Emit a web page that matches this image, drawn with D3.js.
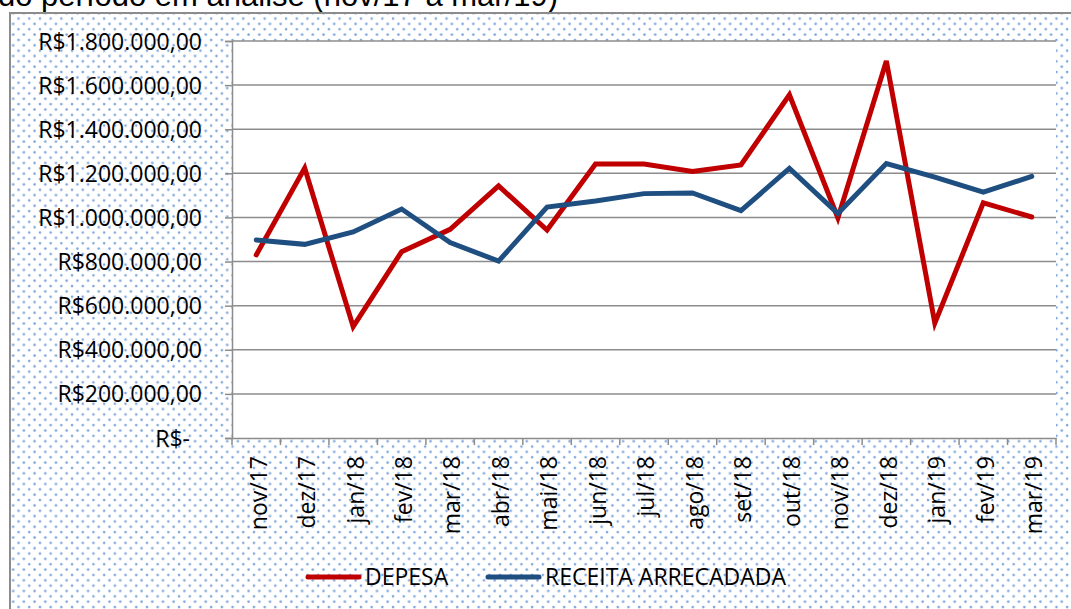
<!DOCTYPE html>
<html>
<head>
<meta charset="utf-8">
<script src="https://cdn.jsdelivr.net/npm/d3@7"></script>
<style>
  html, body { margin: 0; padding: 0; background: #fff; overflow: hidden; }
  svg { display: block; }
</style>
</head>
<body>
<svg id="chart" width="1071" height="609"></svg>
<script>
// Despesa x receita arrecadada (nov/17 a mar/19)
const months = ["nov/17", "dez/17", "jan/18", "fev/18", "mar/18", "abr/18", "mai/18", "jun/18",
  "jul/18", "ago/18", "set/18", "out/18", "nov/18", "dez/18", "jan/19", "fev/19", "mar/19"];

const despesa = [830000, 1224000, 505000, 845000, 946000, 1143000, 943000, 1242000, 1242000,
  1208000, 1238000, 1556000, 998000, 1709000, 521000, 1066000, 1002000];

const receita = [898000, 878000, 934000, 1038000, 886000, 802000, 1047000, 1075000, 1108000,
  1111000, 1031000, 1222000, 1018000, 1244000, 1183000, 1115000, 1186000];

const yTicks = [0, 200000, 400000, 600000, 800000, 1000000, 1200000, 1400000, 1600000, 1800000];

const seriesNames = ["DEPESA", "RECEITA ARRECADADA"];
const seriesColors = ["#c00000", "#1f4e80"];

const svg = d3.select("#chart");
const font = "'Open Sans', 'Noto Sans', sans-serif";
const fontSize = 23;

const plot = { left: 232, top: 41, right: 1056, bottom: 438 };

const br = d3.formatLocale({ decimal: ",", thousands: ".", grouping: [3], currency: ["R$", ""] });
const money = br.format("$,.2f");

// dotted fill of the chart area
const defs = svg.append("defs");
const pat = defs.append("pattern")
  .attr("id", "dots")
  .attr("patternUnits", "userSpaceOnUse")
  .attr("width", 10.7)
  .attr("height", 10.7);
pat.append("rect").attr("width", 10.7).attr("height", 10.7).attr("fill", "#fff");
[[2.5, 2.5], [7.85, 7.85]].forEach(([cx, cy]) => {
  pat.append("circle").attr("cx", cx).attr("cy", cy).attr("r", 1.3).attr("fill", "#7fa6dc");
});

// title remnant, cut at the top as in the source
svg.append("text")
  .attr("x", -2)
  .attr("y", 6)
  .attr("font-family", "'Liberation Sans', Arial, sans-serif")
  .attr("font-size", 31)
  .attr("fill", "#000")
  .text("do período em análise (nov/17 a mar/19)");

// chart area
svg.append("rect")
  .attr("x", 10)
  .attr("y", 13)
  .attr("width", 1080)
  .attr("height", 620)
  .attr("fill", "url(#dots)")
  .attr("stroke", "#8c8c8c")
  .attr("stroke-width", 2);

// plot area
svg.append("rect")
  .attr("x", plot.left)
  .attr("y", plot.top)
  .attr("width", plot.right - plot.left)
  .attr("height", plot.bottom - plot.top)
  .attr("fill", "#fff");

const x = d3.scaleBand()
  .domain(months)
  .range([plot.left, plot.right])
  .padding(0);

const y = d3.scaleLinear()
  .domain([0, 1800000])
  .range([plot.bottom, plot.top]);

// gridlines
svg.append("g")
  .selectAll("line")
  .data(yTicks.filter(d => d > 0))
  .join("line")
  .attr("x1", plot.left)
  .attr("x2", plot.right)
  .attr("y1", d => y(d))
  .attr("y2", d => y(d))
  .attr("stroke", "#8c8c8c")
  .attr("stroke-width", 1.5);

// y axis
const yAxis = svg.append("g")
  .attr("transform", `translate(${plot.left},0)`)
  .call(d3.axisLeft(y).tickValues(yTicks).tickSize(7).tickPadding(23)
    .tickFormat(d => d === 0 ? "R$-" : money(d)));
yAxis.select(".domain").attr("stroke", "#8c8c8c").attr("stroke-width", 1.5);
yAxis.selectAll(".tick line").attr("stroke", "#8c8c8c").attr("stroke-width", 1.5);
yAxis.selectAll(".tick text")
  .attr("font-family", font)
  .attr("font-size", fontSize)
  .attr("fill", "#000")
  .attr("dy", "0.35em")
  .attr("x", d => d === 0 ? -42 : -30);

// x axis: ticks between categories, labels rotated
const xAxis = svg.append("g")
  .attr("transform", `translate(0,${plot.bottom})`)
  .call(d3.axisBottom(x).tickSize(0).tickPadding(0));
xAxis.select(".domain").attr("stroke", "#8c8c8c").attr("stroke-width", 1.5);
xAxis.selectAll(".tick text")
  .attr("font-family", font)
  .attr("font-size", fontSize)
  .attr("fill", "#000")
  .attr("text-anchor", "end")
  .attr("transform", "rotate(-90)")
  .attr("x", -18)
  .attr("y", 0)
  .attr("dy", "0.45em");

xAxis.append("g")
  .selectAll("line")
  .data(months.map(m => x(m)).concat([plot.right]))
  .join("line")
  .attr("x1", d => d)
  .attr("x2", d => d)
  .attr("y1", 0)
  .attr("y2", 7)
  .attr("stroke", "#8c8c8c")
  .attr("stroke-width", 1.5);

// lines
const line = d3.line()
  .x((d, i) => x(months[i]) + x.bandwidth() / 2)
  .y(d => y(d));

[despesa, receita].forEach((values, k) => {
  svg.append("path")
    .datum(values)
    .attr("fill", "none")
    .attr("stroke", seriesColors[k])
    .attr("stroke-width", 5)
    .attr("stroke-linecap", "round")
    .attr("stroke-linejoin", "miter")
    .attr("d", line);
});

// legend
const legendY = 577;
const legendX = [308, 488];
seriesNames.forEach((name, k) => {
  const g = svg.append("g").attr("transform", `translate(${legendX[k]},${legendY})`);
  g.append("line")
    .attr("x1", 0)
    .attr("x2", 51)
    .attr("stroke", seriesColors[k])
    .attr("stroke-width", 5)
    .attr("stroke-linecap", "round");
  g.append("text")
    .attr("x", 57)
    .attr("dy", "0.35em")
    .attr("font-family", font)
    .attr("font-size", fontSize)
    .attr("fill", "#000")
    .text(name);
});
</script>
</body>
</html>
